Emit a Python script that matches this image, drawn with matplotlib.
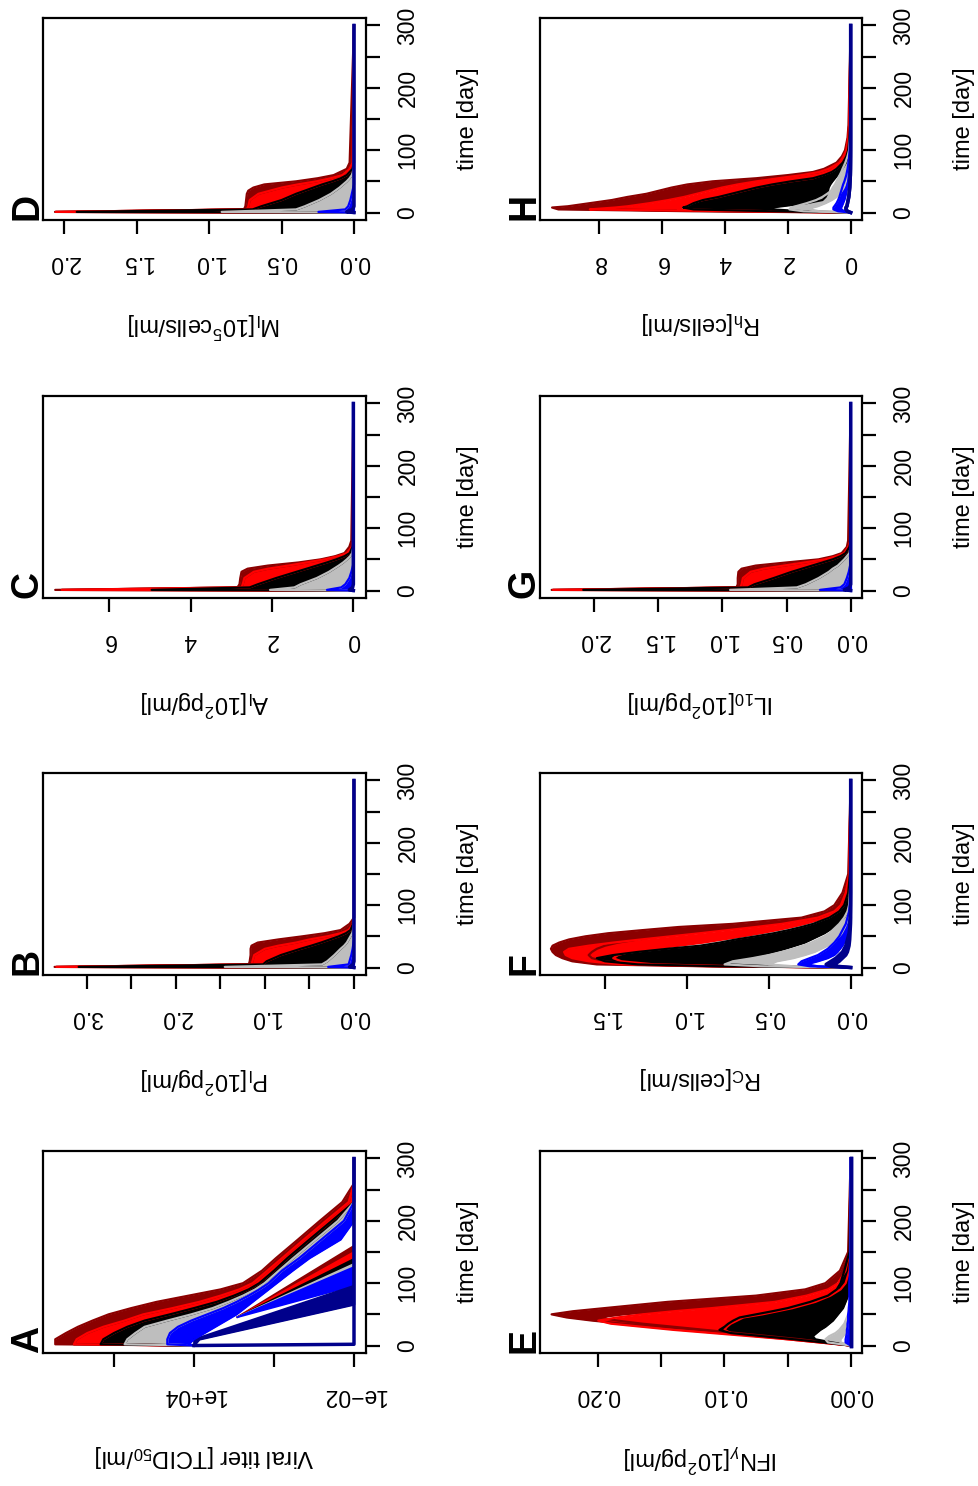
import numpy as np
import matplotlib
matplotlib.use('Agg')
import matplotlib.pyplot as plt

plt.rcParams['font.family'] = ['Liberation Sans', 'DejaVu Sans']
plt.rcParams['mathtext.fontset'] = 'custom'
plt.rcParams['mathtext.rm'] = 'Liberation Sans'
plt.rcParams['mathtext.it'] = 'Liberation Sans:italic'
plt.rcParams['mathtext.bf'] = 'Liberation Sans:bold'

# group colours (R: darkred, red, black, gray, blue, darkblue)
cols = ['#8B0000', '#FF0000', '#000000', '#BEBEBE', '#0000FF', '#00008B']

time_ticks = [0, 50, 100, 150, 200, 250, 300]
time_labels = ['0', '', '100', '', '200', '', '300']

# ---------------- A: viral titer, log10 values ----------------
# edges between the stacked colour bands (top of darkred ... bottom of blue)
a_t = [0, 2, 10, 20, 30, 40, 50, 60, 70, 80, 90, 100, 120, 140, 170, 200, 230, 260, 300]
a_edges = [
    [4, 9.2, 9.2, 8.8, 8.35, 7.8, 7.2, 6.35, 5.4, 4.2, 3.0, 2.16, 1.45, 0.93, 0.1, -0.72, -1.56, -2, -2],
    [4, 8.5, 8.4, 8.0, 7.4, 6.6, 5.9, 4.8, 3.8, 3.0, 2.3, 1.8, 1.25, 0.7, -0.12, -0.95, -1.8, -2, -2],
    [4, 7.5, 7.4, 7.0, 6.5, 5.85, 4.9, 4.0, 3.15, 2.5, 1.95, 1.55, 1.0, 0.5, -0.33, -1.17, -2, -2, -2],
    [4, 6.6, 6.5, 6.2, 5.85, 5.0, 4.1, 3.3, 2.7, 2.16, 1.7, 1.35, 0.82, 0.28, -0.56, -1.4, -2, -2, -2],
    [4, 5.0, 5.0, 4.9, 4.6, 4.1, 3.5, 2.9, 2.4, 1.95, 1.55, 1.2, 0.7, 0.06, -0.78, -1.62, -2, -2, -2],
    [4, 4.2, 4.0, 3.6, 3.2, 2.8, 2.4, 2.1, 1.8, 1.5, 1.2, 0.9, 0.3, -0.33, -1.5, -2, -2, -2, -2],
]
# runs that clear faster: fan from a common point, day each band edge reaches 1e-2
a_fan_t0 = 45
a_fan_v0 = 2.4
a_fan_ends = [160, 150, 139, 131, 126, 96]
# darkblue runs: upper / lower outline of the fan
a_navy_up_t = [0, 10, 96, 300]
a_navy_up_v = [4, 4.0, -2, -2]
a_navy_lo_t = [0, 10, 66, 300]
a_navy_lo_v = [4, 3.8, -2, -2]
a_navy_quick = [4, -2, -2, -2, -2, -2, -2, -2, -2, -2, -2, -2, -2, -2, -2, -2, -2, -2, -2]

# ---------------- B: P_I ----------------
b_t = [0, 1, 5, 10, 20, 30, 35, 40, 45, 50, 55, 60, 70, 80, 300]
b_edges = [
    [0, 3.36, 1.18, 1.17, 1.16, 1.16, 1.15, 1.08, 0.85, 0.58, 0.33, 0.15, 0.05, 0.0, 0],
    [0, 3.34, 1.15, 1.14, 1.12, 1.0, 0.85, 0.65, 0.5, 0.3, 0.15, 0.06, 0.01, 0, 0],
    [0, 3.09, 1.02, 0.98, 0.82, 0.6, 0.48, 0.37, 0.27, 0.17, 0.09, 0.04, 0.01, 0, 0],
    [0, 1.45, 0.36, 0.3, 0.22, 0.15, 0.11, 0.08, 0.06, 0.04, 0.02, 0.01, 0, 0, 0],
    [0, 0.29, 0.06, 0.05, 0.03, 0.015, 0.01, 0.005, 0, 0, 0, 0, 0, 0, 0],
    [0, 0, 0, 0, 0, 0, 0, 0, 0, 0, 0, 0, 0, 0, 0],
]
b_navy = [0, 0.05, 0.01, 0, 0, 0, 0, 0, 0, 0, 0, 0, 0, 0, 0]

# ---------------- C: A_I ----------------
c_t = [0, 1, 5, 10, 20, 30, 35, 40, 45, 50, 55, 60, 70, 80, 300]
c_edges = [
    [0, 7.33, 2.85, 2.8, 2.78, 2.75, 2.6, 2.1, 1.35, 0.8, 0.45, 0.22, 0.1, 0.05, 0],
    [0, 7.17, 2.75, 2.72, 2.68, 2.45, 2.1, 1.6, 1.15, 0.7, 0.38, 0.16, 0.04, 0, 0],
    [0, 4.96, 2.55, 2.35, 1.9, 1.4, 1.15, 0.9, 0.65, 0.42, 0.22, 0.09, 0.02, 0, 0],
    [0, 2.05, 1.45, 1.3, 0.9, 0.6, 0.48, 0.36, 0.25, 0.16, 0.08, 0.03, 0, 0, 0],
    [0, 0.65, 0.3, 0.2, 0.1, 0.05, 0.03, 0.01, 0, 0, 0, 0, 0, 0, 0],
    [0, 0, 0, 0, 0, 0, 0, 0, 0, 0, 0, 0, 0, 0, 0],
]
c_navy = [0, 0.1, 0.02, 0, 0, 0, 0, 0, 0, 0, 0, 0, 0, 0, 0]

# ---------------- D: M_I ----------------
d_t = [0, 1, 5, 10, 20, 30, 35, 40, 45, 50, 55, 60, 70, 80, 300]
d_edges = [
    [0, 2.065, 0.76, 0.75, 0.745, 0.74, 0.73, 0.695, 0.62, 0.4, 0.25, 0.14, 0.05, 0.03, 0],
    [0, 2.06, 0.74, 0.73, 0.72, 0.66, 0.58, 0.5, 0.39, 0.26, 0.16, 0.08, 0.03, 0.01, 0],
    [0, 1.915, 0.7, 0.64, 0.5, 0.4, 0.34, 0.28, 0.22, 0.15, 0.09, 0.05, 0.01, 0, 0],
    [0, 0.914, 0.4, 0.34, 0.24, 0.16, 0.13, 0.1, 0.075, 0.05, 0.03, 0.015, 0, 0, 0],
    [0, 0.246, 0.06, 0.04, 0.025, 0.015, 0.01, 0.005, 0, 0, 0, 0, 0, 0, 0],
    [0, 0, 0, 0, 0, 0, 0, 0, 0, 0, 0, 0, 0, 0, 0],
]
d_navy = [0, 0.05, 0.01, 0, 0, 0, 0, 0, 0, 0, 0, 0, 0, 0, 0]

# ---------------- G: IL_10 ----------------
g_t = [0, 1, 5, 10, 20, 30, 35, 40, 45, 50, 55, 60, 70, 80, 300]
g_edges = [
    [0, 2.33, 0.89, 0.88, 0.88, 0.875, 0.85, 0.74, 0.5, 0.25, 0.14, 0.07, 0.03, 0.02, 0],
    [0, 2.32, 0.86, 0.85, 0.84, 0.78, 0.68, 0.52, 0.36, 0.2, 0.11, 0.05, 0.02, 0, 0],
    [0, 2.084, 0.8, 0.75, 0.6, 0.46, 0.38, 0.3, 0.22, 0.14, 0.08, 0.04, 0.01, 0, 0],
    [0, 0.94, 0.42, 0.35, 0.25, 0.17, 0.14, 0.1, 0.075, 0.05, 0.03, 0.01, 0, 0, 0],
    [0, 0.24, 0.08, 0.05, 0.03, 0.015, 0.01, 0.005, 0, 0, 0, 0, 0, 0, 0],
    [0, 0, 0, 0, 0, 0, 0, 0, 0, 0, 0, 0, 0, 0, 0],
]
g_navy = [0, 0.05, 0.01, 0, 0, 0, 0, 0, 0, 0, 0, 0, 0, 0, 0]

# ---------------- E: IFN_gamma (outer / inner curve per group) ----------------
e_t = [0, 5, 10, 15, 20, 25, 30, 35, 40, 45, 50, 55, 60, 70, 80, 90, 100, 120, 150, 300]
e_dr = [[0, 0.02, 0.045, 0.07, 0.095, 0.12, 0.15, 0.18, 0.205, 0.225, 0.237, 0.22, 0.195, 0.145, 0.075, 0.036, 0.02, 0.0085, 0.002, 0],
        [0, 0.02, 0.04, 0.065, 0.09, 0.115, 0.14, 0.165, 0.185, 0.2, 0.18, 0.15, 0.115, 0.065, 0.038, 0.02, 0.012, 0.005, 0.001, 0]]
e_r = [[0, 0.025, 0.05, 0.08, 0.11, 0.14, 0.165, 0.19, 0.2, 0.185, 0.165, 0.14, 0.11, 0.06, 0.035, 0.018, 0.01, 0.004, 0.001, 0],
       [0, 0.025, 0.05, 0.075, 0.095, 0.1, 0.098, 0.095, 0.09, 0.085, 0.07, 0.058, 0.046, 0.028, 0.016, 0.008, 0.004, 0.001, 0, 0]]
e_k = [[0, 0.022, 0.045, 0.07, 0.095, 0.104, 0.1, 0.097, 0.093, 0.088, 0.075, 0.062, 0.05, 0.032, 0.018, 0.011, 0.008, 0.005, 0.001, 0],
       [0, 0.015, 0.028, 0.03, 0.027, 0.024, 0.02, 0.017, 0.014, 0.012, 0.01, 0.008, 0.006, 0.004, 0.002, 0.001, 0, 0, 0, 0]]
e_g = [[0, 0.018, 0.02, 0.017, 0.012, 0.009, 0.007, 0.005, 0.004, 0.003, 0.002, 0.002, 0.001, 0, 0, 0, 0, 0, 0, 0],
       [0, 0.008, 0.008, 0.006, 0.004, 0.003, 0.002, 0.001, 0.001, 0.001, 0, 0, 0, 0, 0, 0, 0, 0, 0, 0]]
e_b = [[0, 0.004, 0.004, 0.0035, 0.003, 0.003, 0.0025, 0.0025, 0.002, 0.002, 0.002, 0.0015, 0.0015, 0.001, 0.001, 0.001, 0.001, 0.0005, 0, 0],
       [0, 0.001, 0.001, 0.001, 0.001, 0.001, 0.001, 0.001, 0.001, 0.001, 0.001, 0.001, 0.001, 0.0005, 0.0005, 0, 0, 0, 0, 0]]
e_n = [[0] * 20, [0] * 20]

# ---------------- F: R_C ----------------
f_t = [0, 2, 5, 10, 15, 20, 25, 30, 35, 40, 45, 50, 55, 60, 65, 70, 80, 90, 100, 120, 150, 300]
f_dr = [[0, 0.9, 1.55, 1.7, 1.76, 1.8, 1.82, 1.83, 1.82, 1.78, 1.72, 1.62, 1.48, 1.27, 1.05, 0.72, 0.3, 0.16, 0.1, 0.05, 0.015, 0],
        [0, 0.8, 1.3, 1.5, 1.58, 1.6, 1.58, 1.55, 1.5, 1.42, 1.3, 1.15, 1.0, 0.82, 0.62, 0.45, 0.2, 0.1, 0.06, 0.03, 0.01, 0]]
f_r = [[0, 0.85, 1.4, 1.6, 1.7, 1.74, 1.75, 1.72, 1.6, 1.45, 1.28, 1.1, 0.92, 0.75, 0.58, 0.42, 0.2, 0.1, 0.06, 0.03, 0.01, 0],
       [0, 0.7, 1.2, 1.4, 1.45, 1.42, 1.35, 1.2, 1.05, 0.9, 0.78, 0.66, 0.55, 0.45, 0.36, 0.28, 0.15, 0.08, 0.045, 0.02, 0.005, 0]]
f_k = [[0, 0.8, 1.3, 1.5, 1.55, 1.45, 1.3, 1.12, 0.92, 0.8, 0.7, 0.58, 0.47, 0.38, 0.3, 0.23, 0.13, 0.07, 0.04, 0.015, 0.005, 0],
       [0, 0.5, 0.75, 0.75, 0.65, 0.55, 0.47, 0.4, 0.34, 0.28, 0.24, 0.2, 0.16, 0.13, 0.1, 0.08, 0.04, 0.02, 0.01, 0, 0, 0]]
f_g = [[0, 0.55, 0.77, 0.72, 0.6, 0.5, 0.42, 0.35, 0.29, 0.24, 0.2, 0.16, 0.13, 0.11, 0.09, 0.07, 0.04, 0.02, 0.01, 0.005, 0, 0],
       [0, 0.35, 0.5, 0.45, 0.35, 0.28, 0.22, 0.18, 0.14, 0.11, 0.09, 0.07, 0.055, 0.045, 0.035, 0.028, 0.015, 0.008, 0.004, 0, 0, 0]]
f_b = [[0, 0.25, 0.32, 0.3, 0.25, 0.2, 0.17, 0.14, 0.12, 0.1, 0.085, 0.07, 0.06, 0.05, 0.04, 0.03, 0.02, 0.01, 0.005, 0, 0, 0],
       [0, 0.2, 0.27, 0.2, 0.14, 0.1, 0.08, 0.065, 0.05, 0.04, 0.03, 0.025, 0.02, 0.015, 0.012, 0.01, 0.005, 0.002, 0, 0, 0, 0]]
f_n = [[0, 0.12, 0.15, 0.12, 0.09, 0.07, 0.05, 0.04, 0.03, 0.025, 0.02, 0.015, 0.01, 0.008, 0.006, 0.005, 0.003, 0.002, 0.001, 0, 0, 0],
       [0, 0.08, 0.1, 0.07, 0.05, 0.03, 0.02, 0.015, 0.01, 0.008, 0.006, 0.005, 0.004, 0.003, 0.002, 0.001, 0, 0, 0, 0, 0, 0]]

# ---------------- H: R_h ----------------
h_t = [0, 2, 5, 8, 10, 15, 20, 25, 30, 35, 40, 45, 50, 55, 60, 65, 70, 80, 90, 100, 120, 140, 300]
h_dr = [[0, 5.0, 9.3, 9.5, 9.0, 8.3, 7.6, 7.1, 6.5, 6.1, 5.7, 5.2, 4.4, 3.0, 2.0, 1.2, 0.85, 0.45, 0.28, 0.18, 0.1, 0.07, 0],
        [0, 4.0, 8.0, 7.6, 7.2, 6.5, 5.9, 5.4, 5.0, 4.6, 4.2, 3.7, 3.1, 2.4, 1.6, 1.0, 0.7, 0.38, 0.24, 0.15, 0.08, 0.05, 0]]
h_r = [[0, 3.5, 8.3, 7.5, 7.1, 6.4, 5.8, 5.3, 4.9, 4.5, 4.1, 3.6, 3.0, 2.3, 1.55, 1.0, 0.7, 0.36, 0.23, 0.14, 0.08, 0.05, 0],
       [0, 2.5, 5.5, 5.4, 5.3, 5.1, 4.7, 4.2, 3.8, 3.4, 3.0, 2.5, 1.9, 1.2, 0.9, 0.65, 0.5, 0.28, 0.16, 0.1, 0.05, 0.03, 0]]
h_k = [[0, 2.5, 5.0, 5.33, 5.2, 5.0, 4.7, 4.2, 3.8, 3.4, 3.0, 2.5, 1.9, 1.2, 0.85, 0.6, 0.45, 0.25, 0.14, 0.08, 0.04, 0.02, 0],
       [0, 1.5, 2.5, 2.5, 2.2, 1.4, 0.9, 0.8, 0.75, 0.72, 0.7, 0.65, 0.58, 0.5, 0.42, 0.34, 0.27, 0.15, 0.09, 0.05, 0.02, 0.01, 0]]
h_g = [[0, 1.5, 1.95, 1.9, 1.75, 1.4, 1.1, 0.9, 0.75, 0.62, 0.57, 0.5, 0.45, 0.4, 0.35, 0.3, 0.26, 0.17, 0.1, 0.05, 0.02, 0.01, 0],
       [0, 1.0, 1.3, 1.2, 1.05, 0.8, 0.6, 0.45, 0.35, 0.28, 0.22, 0.18, 0.15, 0.12, 0.1, 0.08, 0.06, 0.04, 0.02, 0.01, 0, 0, 0]]
h_b = [[0, 0.4, 0.55, 0.55, 0.52, 0.45, 0.4, 0.36, 0.33, 0.3, 0.27, 0.24, 0.2, 0.17, 0.14, 0.12, 0.1, 0.07, 0.05, 0.03, 0.015, 0.01, 0],
       [0, 0.2, 0.3, 0.3, 0.28, 0.24, 0.2, 0.17, 0.15, 0.13, 0.11, 0.1, 0.08, 0.07, 0.06, 0.05, 0.04, 0.03, 0.02, 0.01, 0, 0, 0]]
h_n = [[0, 0.1, 0.15, 0.15, 0.12, 0.1, 0.08, 0.06, 0.05, 0.04, 0.03, 0.025, 0.02, 0.015, 0.01, 0.008, 0.006, 0.004, 0.002, 0.001, 0, 0, 0],
       [0, 0.1, 0.15, 0.15, 0.12, 0.1, 0.08, 0.06, 0.05, 0.04, 0.03, 0.025, 0.02, 0.015, 0.01, 0.008, 0.006, 0.004, 0.002, 0.001, 0, 0, 0]]

labels = {
    'A': 'Viral titer [TCID$_{50}$/ml]',
    'B': 'P$_\\mathrm{I}$[10$^2$pg/ml]',
    'C': 'A$_\\mathrm{I}$[10$^2$pg/ml]',
    'D': 'M$_\\mathrm{I}$[10$^5$cells/ml]',
    'E': 'IFN$_\\gamma$[10$^2$pg/ml]',
    'F': 'R$_\\mathrm{C}$[cells/ml]',
    'G': 'IL$_{10}$[10$^2$pg/ml]',
    'H': 'R$_\\mathrm{h}$[cells/ml]',
}


def band(ax, t, up, lo, col, log=False, lw=1.6):
    up = np.asarray(up, float)
    lo = np.asarray(lo, float)
    if log:
        up, lo = 10 ** up, 10 ** lo
    ax.fill_betweenx(t, lo, up, color=col, lw=0)
    ax.plot(up, t, color=col, lw=lw)
    ax.plot(lo, t, color=col, lw=lw)


def setup(ax, letter, xlim, xticks, xticklabels, log=False):
    if log:
        ax.set_xscale('log')
    ax.set_xlim(*xlim)
    ax.set_ylim(-12, 312)
    ax.set_xticks(xticks)
    ax.set_xticklabels(xticklabels, rotation=180)
    ax.minorticks_off()
    ax.yaxis.tick_right()
    ax.set_yticks(time_ticks)
    ax.set_yticklabels(time_labels, rotation=90, va='center')
    ax.yaxis.set_label_position('right')
    ax.set_ylabel('time [day]', rotation=90, fontsize=17, labelpad=27)
    ax.set_xlabel(labels[letter], rotation=180, fontsize=17, labelpad=26)
    ax.tick_params(length=10, width=1.6, labelsize=16.5, pad=12)
    for s in ax.spines.values():
        s.set_linewidth(1.6)
    ax.text(-0.016, 0.0, letter, transform=ax.transAxes, rotation=90,
            rotation_mode='anchor', ha='left', va='baseline',
            fontsize=27, fontweight='bold')


fig = plt.figure(figsize=(9.79, 14.86), dpi=100)
W, H = 979.0, 1486.0


def new_ax(left_px, top_px, w_px=323, h_px=202):
    return fig.add_axes([left_px / W, (H - top_px - h_px) / H, w_px / W, h_px / H])


# ---- A ----
ax = new_ax(43, 1151)
for i in range(5):
    band(ax, a_t, a_edges[i], a_edges[i + 1], cols[i], log=True)
    ax.fill(10 ** np.array([a_fan_v0, -2.0, -2.0]),
            [a_fan_t0, a_fan_ends[i], a_fan_ends[i + 1]],
            color=cols[i], lw=1.2)
navy_x = 10 ** np.array(a_navy_up_v[:3] + a_navy_lo_v[2::-1], float)
navy_y = a_navy_up_t[:3] + a_navy_lo_t[2::-1]
ax.fill(navy_x, navy_y, color=cols[5], lw=1.2)
ax.plot(10 ** np.array(a_navy_lo_v, float), a_navy_lo_t, color=cols[5], lw=2)
ax.plot(10 ** np.array(a_navy_quick, float), a_t, color=cols[5], lw=2.5)
setup(ax, 'A', (10 ** 9.66, 10 ** -2.45), [1e-2, 1e1, 1e4, 1e7],
      ['1e\u221202', '', '1e+04', ''], log=True)

# ---- stacked-band panels ----
stacked = [
    ('B', 43, 773, b_t, b_edges, b_navy, (3.49, -0.135),
     [0, 0.5, 1, 1.5, 2, 2.5, 3], ['0.0', '', '1.0', '', '2.0', '', '3.0']),
    ('C', 43, 396, c_t, c_edges, c_navy, (7.63, -0.31),
     [0, 2, 4, 6], ['0', '2', '4', '6']),
    ('D', 43, 18, d_t, d_edges, d_navy, (2.148, -0.083),
     [0, 0.5, 1, 1.5, 2], ['0.0', '0.5', '1.0', '1.5', '2.0']),
    ('G', 540, 396, g_t, g_edges, g_navy, (2.421, -0.088),
     [0, 0.5, 1, 1.5, 2], ['0.0', '0.5', '1.0', '1.5', '2.0']),
]
for letter, lx, ty, t, edges, navy, xlim, xt, xtl in stacked:
    ax = new_ax(lx, ty, 323 if lx < 100 else 322)
    for i in range(5):
        band(ax, t, edges[i], edges[i + 1], cols[i])
    ax.plot(navy, t, color=cols[5], lw=2.5)
    setup(ax, letter, xlim, xt, xtl)

# ---- loop panels ----
loops = [
    ('E', 540, 1151, e_t, [e_dr, e_r, e_k, e_g, e_b, e_n], (0.2462, -0.009),
     [0, 0.05, 0.1, 0.15, 0.2], ['0.00', '', '0.10', '', '0.20']),
    ('F', 540, 773, f_t, [f_dr, f_r, f_k, f_g, f_b, f_n], (1.897, -0.069),
     [0, 0.5, 1, 1.5], ['0.0', '0.5', '1.0', '1.5']),
    ('H', 540, 18, h_t, [h_dr, h_r, h_k, h_g, h_b, h_n], (9.885, -0.36),
     [0, 2, 4, 6, 8], ['0', '2', '4', '6', '8']),
]
for letter, lx, ty, t, groups, xlim, xt, xtl in loops:
    ax = new_ax(lx, ty, 322)
    for i, (col, (up, lo)) in enumerate(zip(cols, groups)):
        band(ax, t, up, lo, col, lw=2.5 if i == 5 else 1.6)
    setup(ax, letter, xlim, xt, xtl)

fig.savefig('out.png', dpi=100)
